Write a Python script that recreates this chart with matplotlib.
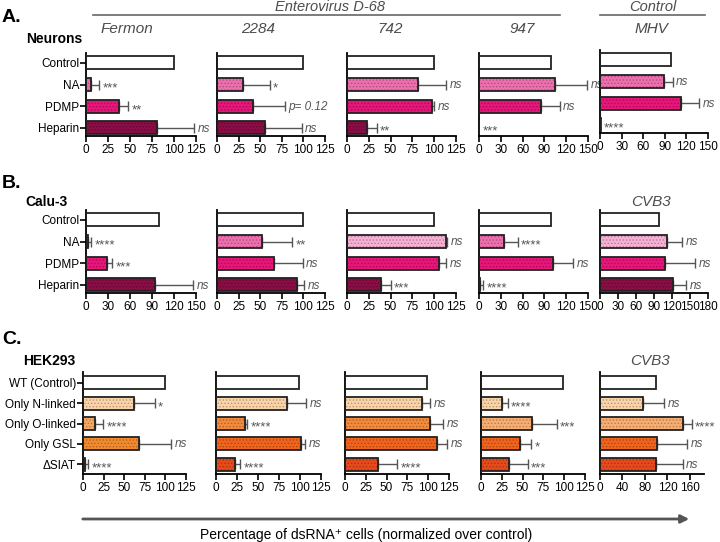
"""
Horizontal bar panels: % dsRNA+ cells after glycan treatments / knockouts
"""

import matplotlib.pyplot as plt
import numpy as np
from matplotlib.colors import to_rgb
from matplotlib.patches import FancyArrowPatch

plt.rcParams["font.family"] = ["Liberation Sans", "DejaVu Sans"]
plt.rcParams["hatch.linewidth"] = 0.6

# ---- data ----
labels_ab = ["Control", "NA", "PDMP", "Heparin"]
labels_c = ["WT (Control)", "Only N-linked", "Only O-linked", "Only GSL", "ΔSIAT"]

neurons_virus = ["Fermon", "2284", "742", "947", "MHV"]
neurons_mean = [
    [100, 6, 37, 81],
    [100, 30, 42, 56],
    [100, 81, 97, 23],
    [99, 104, 85, 0],
    [99, 89, 113, 1],
]
neurons_sd = [
    [0, 9, 11, 42],
    [0, 31, 37, 42],
    [0, 33, 3, 11],
    [0, 45, 26, 0],
    [0, 12, 25, 0],
]
neurons_sig = [
    ["", "***", "**", "ns"],
    ["", "*", "p= 0.12", "ns"],
    ["", "ns", "ns", "**"],
    ["", "ns", "ns", "***"],
    ["", "ns", "ns", "****"],
]

calu_virus = ["", "", "", "", "CVB3"]
calu_mean = [
    [99, 3, 29, 94],
    [100, 52, 66, 93],
    [100, 114, 105, 39],
    [99, 34, 102, 2],
    [99, 111, 108, 122],
]
calu_sd = [
    [0, 4, 7, 52],
    [0, 35, 33, 8],
    [0, 1, 9, 11],
    [0, 19, 28, 4],
    [0, 26, 51, 22],
]
calu_sig = [
    ["", "****", "***", "ns"],
    ["", "**", "ns", "ns"],
    ["", "ns", "ns", "***"],
    ["", "****", "ns", "****"],
    ["", "ns", "ns", "ns"],
]

hek_virus = ["", "", "", "", "CVB3"]
hek_mean = [
    [99, 62, 15, 68, 3],
    [99, 84, 34, 101, 23],
    [98, 93, 102, 111, 40],
    [99, 25, 61, 47, 34],
    [100, 77, 147, 101, 100],
]
hek_sd = [
    [0, 25, 9, 39, 3],
    [0, 23, 3, 5, 6],
    [0, 9, 16, 12, 23],
    [0, 7, 30, 13, 22],
    [0, 37, 16, 54, 47],
]
hek_sig = [
    ["", "*", "****", "ns", "****"],
    ["", "ns", "****", "ns", "****"],
    ["", "ns", "ns", "ns", "****"],
    ["", "****", "***", "*", "***"],
    ["", "ns", "****", "ns", "ns"],
]

# ---- styles ----
W, H = 720, 542
pink = ["#ffffff", "#ee6fae", "#e8157a", "#8a0d45"]
pink_light = ["#ffffff", "#f6b0d4", "#e8157a", "#8a0d45"]
orange_1 = ["#ffffff", "#fbd3a8", "#f6a865", "#f28a30", "#e8501e"]
orange_2 = ["#ffffff", "#fbd3a8", "#f38a3c", "#f0641e", "#e84a1b"]
orange_3 = ["#ffffff", "#fbd3a8", "#f8ae72", "#f0641e", "#e84a1b"]

xs_ab = [(86, 196), (217, 325), (347, 456), (479, 588), (600, 708)]
xs_c = [(83, 186), (216, 321), (345, 449), (481, 585), (600, 704)]

rows = [
    dict(mean=neurons_mean, sd=neurons_sd, sig=neurons_sig, labels=labels_ab,
         xs=xs_ab, ys=[(53, 136)] * 4 + [(50, 133)],
         xmax=[125, 125, 125, 150, 150], step=[25, 25, 25, 30, 30],
         colors=[pink] * 5, height=0.6),
    dict(mean=calu_mean, sd=calu_sd, sig=calu_sig, labels=labels_ab,
         xs=xs_ab, ys=[(210, 293)] * 5,
         xmax=[150, 125, 125, 150, 180], step=[30, 25, 25, 30, 30],
         colors=[pink, pink, pink_light, pink, pink_light], height=0.6),
    dict(mean=hek_mean, sd=hek_sd, sig=hek_sig, labels=labels_c,
         xs=xs_c, ys=[(372, 474)] * 5,
         xmax=[125, 125, 125, 125, 185], step=[25, 25, 25, 25, 40],
         colors=[orange_1, orange_2, orange_2, orange_3, orange_3], height=0.64),
]


def darker(c, f=0.72):
    r, g, b = to_rgb(c)
    return (r * f, g * f, b * f)


def fx(x):
    return x / W


def fy(y):
    return 1 - y / H


fig = plt.figure(figsize=(7.2, 5.42), dpi=100)

for row in rows:
    n = len(row["labels"])
    pos = np.arange(n)
    for j in range(5):
        x0, x1 = row["xs"][j]
        y0, y1 = row["ys"][j]
        ax = fig.add_axes([fx(x0), fy(y1), fx(x1 - x0), (y1 - y0) / H])
        mean = np.array(row["mean"][j], dtype=float)
        sd = np.array(row["sd"][j], dtype=float)
        cols = row["colors"][j]
        hgt = row["height"]

        # filled bars with dotted hatch
        for i in range(n):
            if cols[i] == "#ffffff":
                ax.barh(pos[i], mean[i], height=hgt, color="white", lw=0, zorder=2)
            else:
                ax.barh(pos[i], mean[i], height=hgt, color=cols[i],
                        edgecolor=darker(cols[i]), hatch=".....", lw=0, zorder=2)
        # error bars (one sided)
        has = sd > 0
        ax.errorbar(mean[has], pos[has], xerr=[np.zeros(has.sum()), sd[has]],
                    fmt="none", ecolor="#555555", elinewidth=1.0, capsize=3.5,
                    capthick=1.0, zorder=1)
        # outline
        ax.barh(pos, mean, height=hgt, fill=False, edgecolor="#222222",
                lw=1.3, zorder=3)

        for i in range(n):
            s = row["sig"][j][i]
            if not s:
                continue
            italic = s.startswith("ns") or s.startswith("p")
            ax.annotate(s, xy=(mean[i] + sd[i], pos[i]),
                        xytext=(2.5, -0.5 if italic else -2.8),
                        textcoords="offset points", va="center", ha="left",
                        fontsize=8.5 if italic else 9.5, color="#555555",
                        style="italic" if italic else "normal",
                        annotation_clip=False)

        ax.set_xlim(0, row["xmax"][j])
        ax.set_ylim(n - 1 + (0.37 if n == 4 else 0.49), -(0.46 if n == 4 else 0.54))
        tick_top = row["xmax"][j] if row["xmax"][j] != 185 else 160
        ax.set_xticks(np.arange(0, tick_top + 1, row["step"][j]))
        for side in ["top", "right"]:
            ax.spines[side].set_visible(False)
        for side in ["left", "bottom"]:
            ax.spines[side].set_linewidth(1.3)
        ax.tick_params(axis="x", length=4, width=1.2, labelsize=8.5, pad=2)
        if j == 0:
            ax.set_yticks(pos)
            ax.set_yticklabels(row["labels"])
            ax.tick_params(axis="y", length=4, width=1.2, labelsize=8.5, pad=1)
        else:
            ax.set_yticks([])
        ax.set_facecolor("none")

# ---- titles and labels ----
sub_gray = "#4d4d4d"
fig.text(fx(330), fy(7), "Enterovirus D-68", ha="center", va="center",
         fontsize=10.5, style="italic", color=sub_gray)
fig.text(fx(653), fy(7), "Control", ha="center", va="center",
         fontsize=10.5, style="italic", color=sub_gray)
fig.add_artist(plt.Line2D([fx(93), fx(560)], [fy(15), fy(15)], color="#666666", lw=1.2))
fig.add_artist(plt.Line2D([fx(600), fx(705)], [fy(15), fy(15)], color="#666666", lw=1.2))

for name, xc in zip(neurons_virus, [127, 258, 390, 522, 651]):
    fig.text(fx(xc), fy(29), name, ha="center", va="center",
             fontsize=11, style="italic", color=sub_gray)
fig.text(fx(651), fy(202), calu_virus[4], ha="center", va="center",
         fontsize=11, style="italic", color=sub_gray)
fig.text(fx(650), fy(361), hek_virus[4], ha="center", va="center",
         fontsize=11, style="italic", color=sub_gray)

for letter, name, yl, yn, xn in [("A.", "Neurons", 18, 39, 26),
                                 ("B.", "Calu-3", 183, 202, 25),
                                 ("C.", "HEK293", 340, 361, 23)]:
    fig.text(fx(2), fy(yl), letter, ha="left", va="center",
             fontsize=14, fontweight="bold", color="black")
    fig.text(fx(xn), fy(yn), name, ha="left", va="center",
             fontsize=10, fontweight="bold", color="black")

# bottom arrow
fig.add_artist(FancyArrowPatch(
    (fx(80), fy(519)), (fx(692), fy(519)), transform=fig.transFigure,
    arrowstyle="-|>", mutation_scale=12, lw=2, color="#555555"))
fig.text(fx(366), fy(535), "Percentage of dsRNA\u207a cells (normalized over control)",
         ha="center", va="center", fontsize=10, color="black")

plt.savefig("out.png", dpi=100)
